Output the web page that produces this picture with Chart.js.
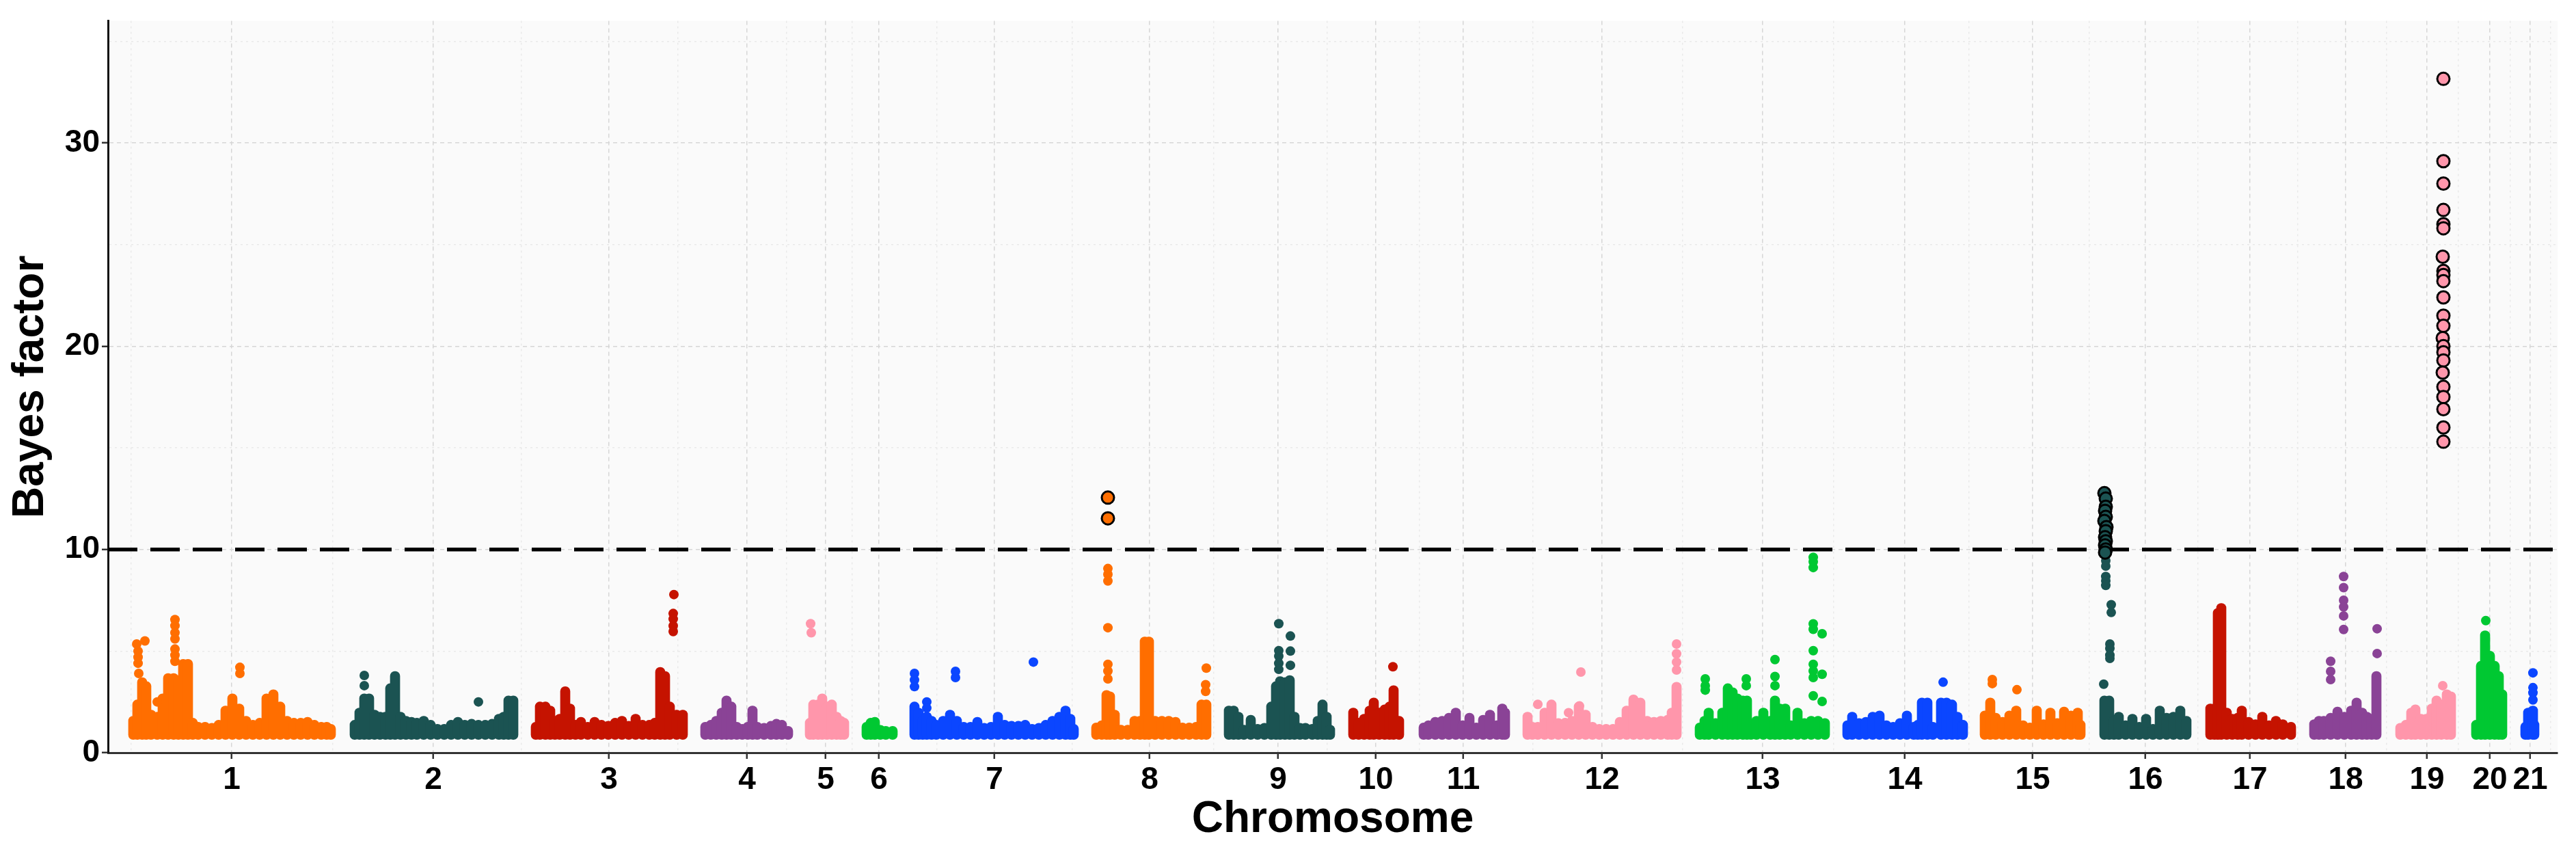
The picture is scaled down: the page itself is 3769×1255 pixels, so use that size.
<!DOCTYPE html>
<html>
<head>
<meta charset="utf-8">
<script src="https://cdn.jsdelivr.net/npm/chart.js@4.4.1/dist/chart.umd.min.js"></script>
<style>
  html, body { margin: 0; padding: 0; background: #ffffff; }
  #wrap { width: 3769px; height: 1255px; }
</style>
</head>
<body>
<div id="wrap"><canvas id="myChart"></canvas></div>
<script>
// Manhattan plot of Bayes factors by chromosome

// chromosome names and the centre of each one on the cumulative position axis
const chromosomes = ["1", "2", "3", "4", "5", "6", "7", "8", "9", "10", "11",
  "12", "13", "14", "15", "16", "17", "18", "19", "20", "21"];
const chrMid = [339, 634, 891, 1093, 1208, 1286, 1455, 1682, 1870, 2013, 2141,
  2344, 2579, 2787, 2974, 3139, 3292, 3432, 3551, 3643, 3702];
const xRange = [158, 3742];

const yTicks = [0, 5, 10, 15, 20, 25, 30, 35];
const threshold = 10;

// dense SNP band of each chromosome: [position, highest Bayes factor there]
const bandFloor = 0.65;
const bandTops = [
  [[195,1.8],[201,2.6],[208,3.7],[214,3.5],[221,2.1],[230,2.0],[238,2.9],[246,3.9],[254,3.9],[261,3.8],[268,4.6],[275,4.6],[282,1.7],[290,1.5],[300,1.5],[310,1.45],[320,1.6],[330,2.3],[340,2.9],[350,2.4],[360,1.8],[370,1.6],[380,1.7],[390,2.9],[400,3.1],[410,2.5],[420,1.8],[430,1.7],[440,1.7],[450,1.75],[460,1.6],[470,1.5],[478,1.5],[484,1.4]],
  [[519,1.6],[526,2.2],[533,2.9],[540,2.9],[548,2.1],[556,2.0],[564,2.0],[571,3.4],[578,4.0],[586,2.0],[594,1.8],[602,1.75],[610,1.7],[620,1.8],[630,1.6],[640,1.4],[650,1.4],[660,1.6],[670,1.75],[680,1.6],[690,1.65],[700,1.6],[710,1.6],[720,1.65],[730,1.9],[737,2.0],[744,2.8],[751,2.8]],
  [[784,1.5],[790,2.5],[798,2.5],[805,2.3],[812,1.8],[819,1.9],[827,3.25],[834,2.4],[842,1.6],[850,1.75],[860,1.5],[870,1.75],[880,1.6],[890,1.55],[900,1.7],[910,1.8],[920,1.55],[930,1.9],[940,1.6],[950,1.6],[958,1.7],[966,4.2],[973,4.0],[980,2.5],[990,2.1],[999,2.1]],
  [[1032,1.5],[1040,1.6],[1048,1.8],[1056,2.2],[1063,2.8],[1070,2.5],[1078,1.5],[1086,1.4],[1094,1.5],[1101,2.3],[1108,1.5],[1118,1.45],[1128,1.55],[1136,1.65],[1144,1.6],[1153,1.3]],
  [[1185,1.7],[1190,2.6],[1197,2.6],[1203,2.9],[1210,2.5],[1217,2.6],[1224,2.0],[1230,1.8],[1235,1.7]],
  [[1268,1.5],[1274,1.7],[1280,1.75],[1288,1.35],[1296,1.3],[1306,1.3]],
  [[1338,2.5],[1344,2.2],[1350,1.8],[1356,2.0],[1363,1.8],[1370,1.6],[1380,1.8],[1390,2.1],[1400,1.8],[1410,1.5],[1420,1.5],[1430,1.75],[1440,1.45],[1450,1.5],[1460,2.0],[1470,1.6],[1480,1.55],[1490,1.55],[1500,1.6],[1510,1.4],[1520,1.45],[1530,1.6],[1540,1.8],[1550,2.0],[1559,2.3],[1566,1.9],[1571,1.4]],
  [[1604,1.47],[1612,1.58],[1619,3.07],[1624,3.0],[1631,2.1],[1640,1.36],[1650,1.36],[1660,1.8],[1668,1.8],[1675,5.7],[1681,5.7],[1690,1.8],[1700,1.8],[1710,1.8],[1720,1.75],[1730,1.47],[1740,1.47],[1750,1.5],[1758,2.6],[1765,2.6]],
  [[1798,2.3],[1805,2.3],[1812,2.0],[1820,1.36],[1830,1.85],[1840,1.4],[1850,1.45],[1860,2.5],[1867,3.5],[1873,3.75],[1880,3.7],[1887,3.8],[1894,2.0],[1902,1.45],[1910,1.45],[1920,1.4],[1928,1.8],[1935,2.6],[1941,2.0],[1946,1.36]],
  [[1980,2.2],[1988,1.7],[1996,1.9],[2004,2.3],[2010,2.7],[2018,2.2],[2026,2.36],[2033,2.5],[2039,3.3],[2047,1.8]],
  [[2083,1.47],[2090,1.58],[2100,1.75],[2110,1.8],[2120,1.95],[2130,2.2],[2140,1.58],[2150,1.95],[2160,1.47],[2170,1.85],[2180,2.1],[2190,1.58],[2198,2.4],[2202,2.2]],
  [[2235,2.0],[2242,1.5],[2250,1.5],[2260,2.2],[2270,2.6],[2280,1.69],[2290,1.7],[2300,1.8],[2310,2.5],[2320,2.1],[2330,1.5],[2340,1.4],[2350,1.4],[2360,1.4],[2370,1.75],[2380,2.3],[2390,2.85],[2400,2.7],[2410,1.8],[2420,1.75],[2430,1.8],[2440,1.85],[2446,2.2],[2453,3.47]],
  [[2487,1.47],[2494,1.8],[2500,2.2],[2510,1.69],[2520,2.2],[2528,3.4],[2535,3.2],[2542,2.9],[2550,2.8],[2556,2.8],[2562,1.69],[2570,1.8],[2580,2.2],[2590,1.8],[2597,2.8],[2604,2.4],[2612,2.4],[2620,1.58],[2630,2.2],[2640,1.69],[2650,1.8],[2660,1.8],[2670,1.69]],
  [[2703,1.58],[2710,2.0],[2720,1.69],[2730,1.75],[2740,2.0],[2750,2.06],[2760,1.58],[2770,1.5],[2780,1.69],[2790,2.06],[2800,1.5],[2806,1.6],[2812,2.7],[2820,2.7],[2828,1.5],[2840,2.7],[2848,2.7],[2856,2.6],[2864,2.0],[2872,1.6]],
  [[2904,2.06],[2912,2.7],[2920,1.95],[2930,1.75],[2940,2.06],[2950,2.3],[2960,1.58],[2970,1.47],[2980,2.3],[2990,1.63],[3000,2.2],[3010,1.69],[3020,2.25],[3030,2.06],[3040,2.2],[3044,1.6]],
  [[3079,2.8],[3086,2.8],[3093,1.8],[3100,2.0],[3110,1.58],[3120,1.9],[3130,1.5],[3140,1.9],[3150,1.4],[3160,2.3],[3170,1.95],[3180,2.0],[3190,2.3],[3199,1.8]],
  [[3234,2.4],[3240,2.4],[3245,7.1],[3250,7.35],[3258,2.2],[3266,1.9],[3274,1.95],[3280,2.3],[3290,1.75],[3300,1.63],[3310,2.0],[3320,1.58],[3330,1.8],[3340,1.63],[3352,1.5]],
  [[3386,1.63],[3393,1.8],[3400,1.8],[3410,1.95],[3420,2.25],[3430,2.0],[3440,2.3],[3448,2.7],[3456,2.2],[3463,2.0],[3470,1.9],[3477,4.0]],
  [[3512,1.45],[3520,1.6],[3528,2.2],[3534,2.36],[3542,1.9],[3550,1.9],[3558,2.4],[3565,2.8],[3572,2.6],[3580,3.1],[3586,3.0]],
  [[3623,1.6],[3630,4.5],[3636,6.0],[3643,5.0],[3650,4.5],[3656,4.0],[3661,3.1]],
  [[3695,1.5],[3699,2.2],[3706,2.3],[3708,1.6]]
];

// separate SNPs standing above the band: [chromosome, position, Bayes factor]
const peakDots = [
  [1,203,3.9],[1,202,4.4],[1,202,4.7],[1,202,5.0],[1,200,5.35],[1,212,5.5],[1,230,2.5],
  [1,256,6.55],[1,256,6.25],[1,256,5.9],[1,256,5.6],[1,256,5.1],[1,256,4.8],[1,256,4.5],[1,351,4.2],[1,351,3.9],
  [2,533,3.8],[2,533,3.3],[2,700,2.5],
  [3,986,7.78],[3,985,6.85],[3,985,6.58],[3,985,6.24],[3,985,5.96],
  [5,1186,6.35],[5,1187,5.9],
  [7,1338,3.9],[7,1338,3.58],[7,1338,3.25],[7,1356,2.5],[7,1356,2.2],[7,1398,4.0],[7,1398,3.7],[7,1512,4.46],
  [8,1621,4.35],[8,1621,4.02],[8,1621,3.63],[8,1621,6.15],[8,1621,9.06],[8,1621,8.78],[8,1621,8.45],
  [8,1764,3.35],[8,1764,3.02],[8,1765,4.16],
  [9,1871,6.35],[9,1871,5.02],[9,1871,4.75],[9,1871,4.4],[9,1871,4.1],[9,1888,5.74],[9,1888,5.0],[9,1888,4.3],
  [10,2038,4.23],
  [12,2250,2.38],[12,2295,1.97],[12,2311,2.3],[12,2313,3.97],[12,2453,5.35],[12,2453,4.87],[12,2453,4.46],[12,2453,4.07],
  [13,2495,3.63],[13,2495,3.3],[13,2495,3.08],[13,2555,3.63],[13,2555,3.3],[13,2597,4.58],[13,2597,3.75],[13,2597,3.3],
  [13,2653,9.61],[13,2653,9.39],[13,2653,9.11],[13,2653,6.34],[13,2653,6.07],[13,2666,5.85],[13,2653,5.02],
  [13,2653,4.35],[13,2653,4.02],[13,2653,3.7],[13,2666,3.86],[13,2653,2.8],[13,2666,2.52],
  [14,2843,3.47],
  [15,2915,3.6],[15,2915,3.4],[15,2951,3.1],
  [16,3078,3.37],[16,3087,5.35],[16,3087,5.13],[16,3087,4.8],[16,3087,4.64],[16,3089,7.28],[16,3089,6.9],
  [16,3081,8.67],[16,3081,8.45],[16,3081,8.23],[16,3081,9.45],[16,3081,9.18],
  [18,3410,4.5],[18,3410,4.0],[18,3410,3.6],[18,3429,8.67],[18,3429,8.12],[18,3429,7.5],[18,3429,7.17],
  [18,3429,6.73],[18,3429,6.06],[18,3478,6.1],[18,3478,4.88],
  [19,3574,3.3],
  [20,3637,6.5],
  [21,3706,3.93],[21,3706,3.2],[21,3706,2.95],[21,3706,2.6]
];

// significant SNPs, drawn with a black outline
const hitDots = [
  [8,1621,12.55],[8,1621,11.53],
  [16,3079,12.77],[16,3081,12.5],[16,3081,12.1],[16,3080,11.9],[16,3081,11.6],[16,3079,11.4],[16,3082,11.1],
  [16,3081,10.9],[16,3080,10.6],[16,3081,10.4],[16,3080,10.2],[16,3081,10.0],[16,3080,9.85],
  [19,3575,33.15],[19,3575,29.1],[19,3575,28.0],[19,3575,26.7],[19,3575,26.0],[19,3575,25.8],[19,3574,24.4],
  [19,3575,23.7],[19,3575,23.5],[19,3575,23.2],[19,3575,22.4],[19,3575,21.5],[19,3575,21.0],[19,3574,20.4],
  [19,3575,20.0],[19,3575,19.7],[19,3575,19.3],[19,3574,18.7],[19,3575,18.0],[19,3575,17.5],[19,3575,16.9],
  [19,3575,16.0],[19,3575,15.3]
];

// colours cycle every 7 chromosomes
const palette = ["#FF6E00", "#1B5352", "#C51300", "#8A4396", "#FF96AB", "#00C832", "#0B46FF"];
const chrColor = (chr) => palette[(chr - 1) % palette.length];

// build the datasets
const bandData = [];
const bandColors = [];
bandTops.forEach((rows, i) => {
  rows.forEach(([x, top]) => {
    bandData.push({ x: x, y: [bandFloor, top] });
    bandColors.push(chrColor(i + 1));
  });
});

const dotData = peakDots.map(([c, x, y]) => ({ x: x, y: y }));
const dotColors = peakDots.map(([c]) => chrColor(c));
const hitData = hitDots.map(([c, x, y]) => ({ x: x, y: y }));
const hitColors = hitDots.map(([c]) => chrColor(c));

// light grid at the midpoints between chromosome centres
const minorX = [chrMid[0] - (chrMid[1] - chrMid[0]) / 2];
for (let i = 0; i < chrMid.length - 1; i++) minorX.push((chrMid[i] + chrMid[i + 1]) / 2);
minorX.push(chrMid[chrMid.length - 1] + (chrMid[chrMid.length - 1] - chrMid[chrMid.length - 2]) / 2);

const isMajorX = (v) => chrMid.indexOf(v) !== -1;
const isMajorY = (v) => v % 10 === 0;

// grey panel behind the plot
const panelBg = {
  id: "panelBg",
  beforeDraw(chart) {
    const { ctx, chartArea: a } = chart;
    ctx.save();
    ctx.fillStyle = "#FAFAFA";
    ctx.fillRect(a.left, a.top, a.right - a.left, a.bottom - a.top);
    ctx.restore();
  },
};

const font = "'Liberation Sans', Arial, sans-serif";

const ctx = document.getElementById("myChart");
new Chart(ctx, {
  type: "scatter",
  data: {
    datasets: [
      {
        type: "line",
        data: [{ x: xRange[0], y: threshold }, { x: xRange[1], y: threshold }],
        borderColor: "#000000",
        borderWidth: 5.5,
        borderDash: [43, 19],
        pointRadius: 0,
        fill: false,
        order: 10,
      },
      {
        type: "bar",
        data: bandData,
        backgroundColor: bandColors,
        barThickness: 14,
        grouped: false,
        borderRadius: 7,
        borderSkipped: false,
        borderWidth: 0,
        order: 5,
      },
      {
        data: dotData,
        pointBackgroundColor: dotColors,
        pointBorderWidth: 0,
        pointRadius: 7,
        order: 3,
      },
      {
        data: hitData,
        pointBackgroundColor: hitColors,
        pointBorderColor: "#000000",
        pointBorderWidth: 3,
        pointRadius: 9,
        order: 1,
      },
    ],
  },
  plugins: [panelBg],
  options: {
    responsive: true,
    maintainAspectRatio: false,
    devicePixelRatio: 1,
    animation: false,
    layout: { padding: { top: 18, right: 27, left: 0, bottom: 0 } },
    plugins: {
      legend: { display: false },
      tooltip: { enabled: false },
    },
    scales: {
      x: {
        type: "linear",
        min: xRange[0],
        max: xRange[1],
        offset: false,
        afterBuildTicks: (scale) => {
          scale.ticks = chrMid.concat(minorX).sort((a, b) => a - b).map((v) => ({ value: v }));
        },
        afterFit: (scale) => { scale.height = 154; },
        ticks: {
          autoSkip: false,
          maxRotation: 0,
          minRotation: 0,
          padding: 4,
          color: "#000000",
          font: { family: font, size: 46, weight: "bold" },
          callback: (v) => {
            const i = chrMid.indexOf(v);
            return i === -1 ? "" : chromosomes[i];
          },
        },
        grid: {
          offset: false,
          color: (c) => (c.tick && isMajorX(c.tick.value) ? "#D6D6D6" : "#E9E9E9"),
          lineWidth: 1.5,
          tickLength: 9,
          tickWidth: 2.5,
          tickColor: (c) => (c.tick && isMajorX(c.tick.value) ? "#333333" : "rgba(0,0,0,0)"),
        },
        border: {
          color: "#333333",
          width: 3,
          dash: (c) => (c.tick && isMajorX(c.tick.value) ? [6, 5] : [3, 5]),
        },
        title: {
          display: true,
          text: "Chromosome",
          color: "#000000",
          font: { family: font, size: 64, weight: "bold" },
          padding: { top: 0, bottom: 17 },
        },
      },
      y: {
        min: 0,
        max: 36,
        afterBuildTicks: (scale) => {
          scale.ticks = yTicks.map((v) => ({ value: v }));
        },
        afterFit: (scale) => { scale.width = 158; },
        ticks: {
          autoSkip: false,
          padding: 3,
          color: "#000000",
          font: { family: font, size: 46, weight: "bold" },
          callback: (v) => (isMajorY(v) ? String(v) : ""),
        },
        grid: {
          color: (c) => (c.tick && isMajorY(c.tick.value) ? "#D6D6D6" : "#E9E9E9"),
          lineWidth: 1.5,
          tickLength: 9,
          tickWidth: 2.5,
          tickColor: (c) => (c.tick && isMajorY(c.tick.value) ? "#333333" : "rgba(0,0,0,0)"),
        },
        border: {
          color: "#111111",
          width: 3,
          dash: (c) => (c.tick && isMajorY(c.tick.value) ? [6, 5] : [3, 5]),
        },
        title: {
          display: true,
          text: "Bayes factor",
          color: "#000000",
          font: { family: font, size: 64, weight: "bold" },
          padding: { top: 7, bottom: 0 },
        },
      },
    },
  },
});
</script>
</body>
</html>
